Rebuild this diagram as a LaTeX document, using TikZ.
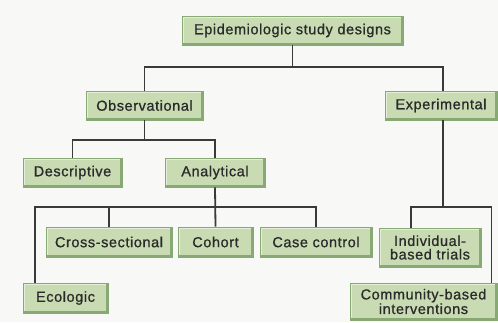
\documentclass[tikz,border=0pt]{standalone}
\usepackage{fontspec}
\setmainfont{Liberation Sans}[LetterSpace=4,FakeBold=0.8]
\usetikzlibrary{calc}
\definecolor{boxfill}{HTML}{C8DBB2}
\definecolor{boxlight}{HTML}{E2EED5}
\definecolor{boxdark}{HTML}{88A874}
\definecolor{linecol}{HTML}{3A3A3A}
\definecolor{txtcol}{HTML}{2A2A2A}
\definecolor{bgcol}{HTML}{F8F8F6}
\tikzset{
  gbox/.style={draw=boxdark, line width=0.8pt, fill=boxfill, text=txtcol,
    inner sep=0pt, align=center,
    font=\fontsize{14.5}{13.5}\selectfont,
    path picture={
      \draw[boxlight, line width=3.5pt] (path picture bounding box.south west) -- (path picture bounding box.north west) -- (path picture bounding box.north east);
      \draw[boxdark, line width=3.5pt] (path picture bounding box.north east) -- (path picture bounding box.south east) -- (path picture bounding box.south west);
    }},
  conn/.style={draw=linecol, line width=1.8pt}
}
\begin{document}
\begin{tikzpicture}[x=1pt,y=-1pt]
\fill[bgcol] (0,0) rectangle (498,322);
\useasboundingbox (0,0) rectangle (498,322);

\node[gbox, minimum width=221pt, minimum height=29pt] (top) at (292.5,30.5) {Epidemiologic study designs};
\node[gbox, minimum width=117pt, minimum height=29pt] (obs) at (144.5,105.5) {Observational};
\node[gbox, minimum width=112pt, minimum height=29pt] (exp) at (441,105.5) {Experimental};
\node[gbox, minimum width=99pt, minimum height=29pt] (desc) at (72.5,172.5) {Descriptive};
\node[gbox, minimum width=100pt, minimum height=29pt] (anal) at (215,172.5) {Analytical};
\node[gbox, minimum width=126pt, minimum height=30pt] (cross) at (109,242) {Cross-sectional};
\node[gbox, minimum width=75pt, minimum height=30pt] (cohort) at (215.5,242) {Cohort};
\node[gbox, minimum width=112pt, minimum height=30pt] (case) at (316,242) {Case control};
\node[gbox, minimum width=85pt, minimum height=30pt] (ecol) at (65.5,298) {Ecologic};
\node[gbox, minimum width=102pt, minimum height=39pt] (indiv) at (430,247.5) {Individual-\\based trials};
\node[gbox, minimum width=147pt, minimum height=37pt] (comm) at (423.5,301.5) {Community-based\\interventions};

\coordinate (h1) at (292.5,67);
\coordinate (h2) at (144.5,140);
\coordinate (h3) at (215,207);
\coordinate (h4) at (443,207);
\coordinate (ecolin) at ($(ecol.north west)+(12,0)$);
\coordinate (indin) at ($(indiv.north west)+(32,0)$);
\coordinate (commin) at ($(comm.north east)+(-6,0)$);
\coordinate (expout) at ($(exp.south)+(2,0)$);
\coordinate (expin) at ($(exp.north)+(2,0)$);

\draw[conn] (top.south) -- (h1);
\draw[conn] (obs.north) |- (h1) -| (expin);
\draw[conn] (obs.south) -- (h2);
\draw[conn] (desc.north) |- (h2) -| (anal.north);
\draw[conn] (anal.south) -- (cohort.north);
\draw[conn] (ecolin) |- (h3) -| (case.north);
\draw[conn] (cross.north) -- (cross.north |- h3);
\draw[conn] (expout) -- (h4);
\draw[conn] (indin) |- (h4) -| (commin);
\end{tikzpicture}
\end{document}
